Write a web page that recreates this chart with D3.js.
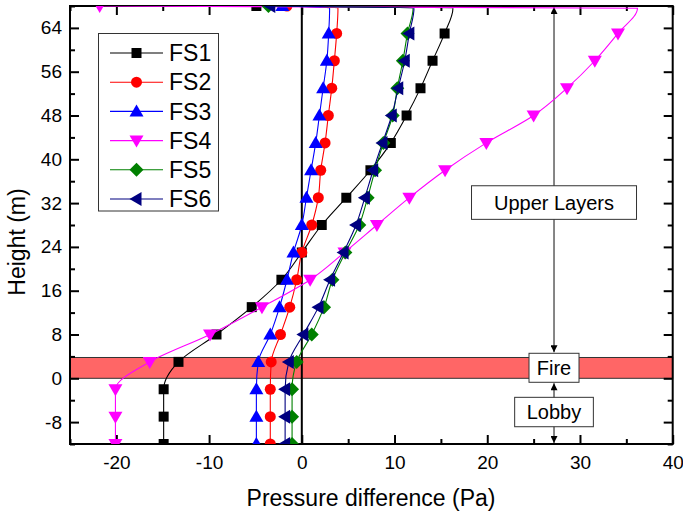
<!DOCTYPE html>
<html lang="en">
<head>
<meta charset="UTF-8">
<title>Pressure difference vs height</title>
<script src="https://cdn.jsdelivr.net/npm/d3@7"></script>
<style>
    body { margin: 0; background: #fff; }
    svg text { font-family: Arial, "Liberation Sans", sans-serif; fill: #000; }
</style>
</head>
<body>
<svg width="683" height="515"></svg>
<script>
    // heights where the markers sit (m)
    const heights = [-12, -7, -2, 3, 8, 13, 18, 23, 28, 33, 38, 43, 48, 53, 58, 63];
    // last point where each curve meets the ceiling, then the point on the ceiling itself
    const topHeight = 67.6;
    const ceilHeight = 68;

    const seriesNames = ["FS1", "FS2", "FS3", "FS4", "FS5", "FS6"];
    const seriesColors = ["#000000", "#ff0000", "#0000ff", "#ff00ff", "#008000", "#000080"];
    const seriesShapes = ["square", "circle", "up", "down", "diamond", "left"];

    // pressure difference (Pa) at each height
    const fs1 = [-14.9, -14.9, -14.9, -13.3, -9.2, -5.4, -2.2, 0.0, 2.15, 4.8, 7.4, 9.6, 11.3, 12.8, 14.1, 15.4];
    const fs2 = [-3.4, -3.4, -3.4, -3.3, -2.3, -1.3, -0.55, 0.0, 1.07, 1.78, 2.04, 2.51, 2.86, 3.23, 3.51, 3.76];
    const fs3 = [-4.9, -4.9, -4.9, -4.7, -3.4, -2.4, -1.6, -0.9, 0.0, 0.5, 1.0, 1.5, 1.9, 2.3, 2.7, 2.9];
    const fs4 = [-20.1, -20.1, -20.1, -16.4, -9.9, -4.3, 0.9, 4.6, 8.1, 11.6, 15.45, 19.9, 25.0, 28.6, 31.6, 34.1];
    const fs5 = [-1.05, -1.05, -1.05, -0.55, 1.07, 2.4, 3.3, 4.7, 6.2, 7.1, 7.9, 8.8, 9.8, 10.3, 10.9, 11.4];
    const fs6 = [-1.8, -1.8, -1.8, -1.4, 0.17, 1.8, 3.05, 4.5, 5.85, 6.8, 7.7, 8.7, 9.7, 10.4, 11.1, 11.6];
    const seriesValues = [fs1, fs2, fs3, fs4, fs5, fs6];
    const topValues = [16.3, 3.9, 3.0, 36.2, 12.0, 12.1];
    const ceilValues = [-4.9, -1.6, -2.1, -21.8, -3.6, -3.4];

    // fire floor band and labels
    const fireBand = [0, 3.8];
    const arrowX = 27.2;
    const labels = ["Upper Layers", "Fire", "Lobby"];
    const labelHeights = [32.1, 1.92, -6.16];

    const xTicksMajor = [-20, -10, 0, 10, 20, 30, 40];
    const xTicksMinor = [-25, -15, -5, 5, 15, 25, 35];
    const yTicksMajor = [-8, 0, 8, 16, 24, 32, 40, 48, 56, 64];
    const yTicksMinor = [-12, -4, 4, 12, 20, 28, 36, 44, 52, 60, 68];

    let svg = d3.select("svg");
    let x = d3.scaleLinear().domain([-25, 40]).range([70, 672.7]);
    let y = d3.scaleLinear().domain([-12, 68]).range([444, 6]);

    svg.append("clipPath").attr("id", "plotclip")
        .append("rect")
        .attr("x", x(-25)).attr("y", y(68))
        .attr("width", x(40) - x(-25)).attr("height", y(-12) - y(68));

    function markerPath(shape) {
        if (shape === "square") return "M-5,-5H5V5H-5Z";
        if (shape === "circle") return d3.symbol(d3.symbolCircle, Math.PI * 5.5 * 5.5)();
        if (shape === "up") return "M0,-7L7,5L-7,5Z";
        if (shape === "down") return "M0,7L7,-5L-7,-5Z";
        if (shape === "diamond") return "M0,-7L7,0L0,7L-7,0Z";
        return "M-7,0L5,-7L5,7Z";
    }

    // fire band
    svg.append("rect")
        .attr("x", x(-25)).attr("width", x(40) - x(-25))
        .attr("y", y(fireBand[1])).attr("height", y(fireBand[0]) - y(fireBand[1]))
        .attr("fill", "#ff6666").attr("stroke", "#333").attr("stroke-width", 1);

    // zero line
    svg.append("line")
        .attr("x1", x(0)).attr("x2", x(0)).attr("y1", y(-12)).attr("y2", y(68))
        .attr("stroke", "#000").attr("stroke-width", 2);

    // axes, ticks pointing inside; plain hyphen for negatives
    const fmt = d => String(d);
    function styleAxis(g) {
        g.select(".domain").remove();
        g.selectAll(".tick line").attr("stroke", "#000").attr("stroke-width", 2);
        g.selectAll("text").attr("font-size", 19).attr("fill", "#000")
            .attr("font-family", "Arial, 'Liberation Sans', sans-serif");
    }
    let axBottom = svg.append("g").attr("transform", `translate(0,${y(-12)})`);
    axBottom.append("g").call(d3.axisBottom(x).tickValues(xTicksMajor).tickFormat(fmt).tickSize(-9).tickPadding(12)).call(styleAxis);
    axBottom.append("g").call(d3.axisBottom(x).tickValues(xTicksMinor).tickSize(-5).tickFormat("")).call(styleAxis);
    let axTop = svg.append("g").attr("transform", `translate(0,${y(68)})`);
    axTop.append("g").call(d3.axisTop(x).tickValues(xTicksMajor).tickSize(-9).tickFormat("")).call(styleAxis);
    axTop.append("g").call(d3.axisTop(x).tickValues(xTicksMinor).tickSize(-5).tickFormat("")).call(styleAxis);
    let axLeft = svg.append("g").attr("transform", `translate(${x(-25)},0)`);
    axLeft.append("g").call(d3.axisLeft(y).tickValues(yTicksMajor).tickFormat(fmt).tickSize(-9).tickPadding(8)).call(styleAxis);
    axLeft.append("g").call(d3.axisLeft(y).tickValues(yTicksMinor).tickSize(-5).tickFormat("")).call(styleAxis);
    let axRight = svg.append("g").attr("transform", `translate(${x(40)},0)`);
    axRight.append("g").call(d3.axisRight(y).tickValues(yTicksMajor).tickSize(-9).tickFormat("")).call(styleAxis);
    axRight.append("g").call(d3.axisRight(y).tickValues(yTicksMinor).tickSize(-5).tickFormat("")).call(styleAxis);

    // frame
    svg.append("rect")
        .attr("x", x(-25)).attr("y", y(68))
        .attr("width", x(40) - x(-25)).attr("height", y(-12) - y(68))
        .attr("fill", "none").attr("stroke", "#000").attr("stroke-width", 2);

    // annotation arrows
    svg.append("defs").html(
        '<marker id="ahead" viewBox="0 0 10 10" refX="10" refY="5" markerWidth="11" markerHeight="7" ' +
        'markerUnits="userSpaceOnUse" orient="auto-start-reverse"><path d="M0,0L10,5L0,10Z" fill="#000"/></marker>');
    let boxH = [33.6, 29, 29.4];
    let boxW = [165, 50, 78.7];
    let fireTop = y(labelHeights[1]) - boxH[1] / 2;
    let fireBottom = y(labelHeights[1]) + boxH[1] / 2;
    svg.append("line")
        .attr("x1", x(arrowX)).attr("x2", x(arrowX))
        .attr("y1", fireTop - 1).attr("y2", y(68) + 1)
        .attr("stroke", "#444").attr("stroke-width", 1.3)
        .attr("marker-start", "url(#ahead)").attr("marker-end", "url(#ahead)");
    svg.append("line")
        .attr("x1", x(arrowX)).attr("x2", x(arrowX))
        .attr("y1", fireBottom + 1).attr("y2", y(-12) - 1)
        .attr("stroke", "#444").attr("stroke-width", 1.3)
        .attr("marker-start", "url(#ahead)").attr("marker-end", "url(#ahead)");

    // series
    const line = d3.line().x(d => x(d[0])).y(d => y(d[1])).curve(d3.curveMonotoneY);
    let plot = svg.append("g").attr("clip-path", "url(#plotclip)");
    seriesNames.forEach((name, i) => {
        let pts = heights.map((h, j) => [seriesValues[i][j], h]);
        let linePts = pts.concat([[topValues[i], topHeight], [ceilValues[i], ceilHeight]]);
        plot.append("path")
            .attr("d", line(linePts))
            .attr("fill", "none")
            .attr("stroke", seriesColors[i])
            .attr("stroke-width", 1.1);
        let markPts = pts.concat([[ceilValues[i], ceilHeight]]);
        plot.selectAll(".m" + i)
            .data(markPts)
            .enter()
            .append("path")
            .attr("transform", d => `translate(${x(d[0])},${y(d[1])})`)
            .attr("d", markerPath(seriesShapes[i]))
            .attr("fill", seriesColors[i]);
    });

    // label boxes
    labels.forEach((t, i) => {
        let cy = y(labelHeights[i]);
        svg.append("rect")
            .attr("x", x(arrowX) - boxW[i] / 2).attr("y", cy - boxH[i] / 2)
            .attr("width", boxW[i]).attr("height", boxH[i])
            .attr("fill", "#fff").attr("stroke", "#333").attr("stroke-width", 1);
        svg.append("text")
            .attr("x", x(arrowX)).attr("y", cy)
            .attr("dy", "0.36em")
            .attr("text-anchor", "middle")
            .attr("font-size", 20)
            .text(t);
    });

    // legend
    let legend = svg.append("g");
    legend.append("rect")
        .attr("x", 98.5).attr("y", 33.5).attr("width", 120).attr("height", 177.5)
        .attr("fill", "#fff").attr("stroke", "#333").attr("stroke-width", 1);
    seriesNames.forEach((name, i) => {
        let ly = 53 + i * 29.2;
        legend.append("line")
            .attr("x1", 110).attr("x2", 163).attr("y1", ly).attr("y2", ly)
            .attr("stroke", seriesColors[i]).attr("stroke-width", 1.1);
        legend.append("path")
            .attr("transform", `translate(136.5,${ly})`)
            .attr("d", markerPath(seriesShapes[i]))
            .attr("fill", seriesColors[i]);
        legend.append("text")
            .attr("x", 169).attr("y", ly).attr("dy", "0.36em")
            .attr("font-size", 23)
            .text(name);
    });

    // axis titles
    svg.append("text")
        .attr("x", 371).attr("y", 506)
        .attr("text-anchor", "middle")
        .attr("font-size", 23)
        .text("Pressure difference (Pa)");
    svg.append("text")
        .attr("transform", "translate(25,242) rotate(-90)")
        .attr("text-anchor", "middle")
        .attr("font-size", 23)
        .text("Height (m)");
</script>
</body>
</html>
